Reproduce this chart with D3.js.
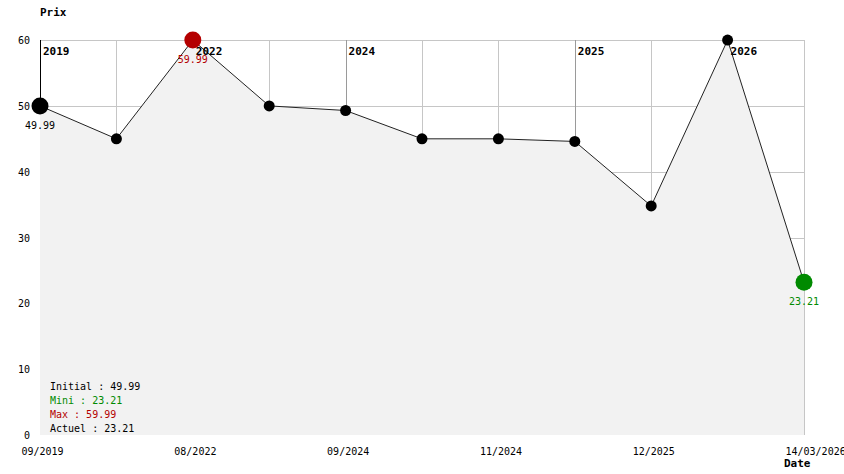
<!DOCTYPE html>
<html>
<head>
<meta charset="utf-8">
<script src="https://cdn.jsdelivr.net/npm/d3@7"></script>
<style>
  html, body { margin: 0; padding: 0; background: #fff; }
  svg { display: block; }
  text { font-family: "DejaVu Sans Mono", "Liberation Mono", monospace; }
</style>
</head>
<body>
<svg id="chart" width="844" height="474"></svg>
<script>
// ---- data ----
const prices = [49.99, 44.99, 59.99, 49.99, 49.29, 44.99, 44.99, 44.59, 34.79, 59.99, 23.21];
const xTickIndex = [0, 2, 4, 6, 8, 10];
const xTickLabels = ["09/2019", "08/2022", "09/2024", "11/2024", "12/2025", "14/03/2026"];
const yearIndex = [0, 2, 4, 7, 9];
const yearLabels = ["2019", "2022", "2024", "2025", "2026"];
const yTicks = [0, 10, 20, 30, 40, 50, 60];
const legendLabels = ["Initial : 49.99", "Mini : 23.21", "Max : 59.99", "Actuel : 23.21"];
const legendColors = ["#000000", "#008a00", "#b40000", "#000000"];

// ---- layout ----
const pL = 40, pR_ = 804, pT = 40, pB = 435;
const RED = "#b40000", GREEN = "#008a00";

const svg = d3.select("#chart");
const idx = d3.range(prices.length);
const x = d3.scalePoint().domain(idx).range([pL, pR_]);
const y = d3.scaleLinear().domain([0, 60]).range([pB, pT]);

// gridlines
const g = svg.append("g");
g.selectAll("line.h").data(yTicks.filter(d => d > 0)).join("line")
  .attr("x1", pL).attr("x2", pR_)
  .attr("y1", d => Math.round(y(d)) + 0.5).attr("y2", d => Math.round(y(d)) + 0.5)
  .attr("stroke", "#c6c6c6").attr("stroke-width", 1);
g.selectAll("line.v").data(idx.slice(1)).join("line")
  .attr("x1", d => Math.round(x(d)) + 0.5).attr("x2", d => Math.round(x(d)) + 0.5)
  .attr("y1", pT).attr("y2", pB)
  .attr("stroke", d => yearIndex.includes(d) ? "#9a9a9a" : "#c6c6c6").attr("stroke-width", 1);
// y axis line
g.append("line").attr("x1", pL + 0.5).attr("x2", pL + 0.5).attr("y1", pT).attr("y2", pB)
  .attr("stroke", "#000").attr("stroke-width", 1);

// area
const area = d3.area().x(i => x(i)).y0(y(0)).y1(i => y(prices[i]));
svg.append("path").datum(idx).attr("d", area).attr("fill", "#f2f2f2");

// line
const line = d3.line().x(i => x(i)).y(i => y(prices[i]));
svg.append("path").datum(idx).attr("d", line).attr("fill", "none")
  .attr("stroke", "#222").attr("stroke-width", 1);

// year labels
svg.selectAll("text.year").data(yearIndex).join("text")
  .attr("x", d => x(d) + 3).attr("y", 55)
  .attr("font-size", 11).attr("font-weight", "bold").attr("fill", "#000")
  .text((d, i) => yearLabels[i]);

// points
const maxIdx = prices.indexOf(d3.max(prices));
const lastIdx = prices.length - 1;
function pColor(i) {
  if (i === lastIdx) return GREEN;
  if (i === maxIdx) return RED;
  return "#000";
}
function pRad(i) {
  return (i === 0 || i === maxIdx || i === lastIdx) ? 8.5 : 5.5;
}
svg.selectAll("circle.pt").data(idx).join("circle")
  .attr("cx", i => x(i)).attr("cy", i => y(prices[i]))
  .attr("r", pRad).attr("fill", pColor);

// point value labels
const labelled = [0, maxIdx, lastIdx];
svg.selectAll("text.val").data(labelled).join("text")
  .attr("x", i => x(i)).attr("y", i => y(prices[i]) + 23)
  .attr("text-anchor", "middle").attr("font-size", 10)
  .attr("fill", i => i === lastIdx ? GREEN : (i === maxIdx ? RED : "#000"))
  .text(i => prices[i].toFixed(2));

// y axis ticks
const yAxis = d3.axisLeft(y).tickValues(yTicks).tickSize(0).tickPadding(0).tickFormat(d3.format("d"));
const ya = svg.append("g").attr("transform", `translate(${pL - 10},0)`).call(yAxis);
ya.select(".domain").remove();
ya.selectAll("text").attr("font-size", 10).attr("font-family", "DejaVu Sans Mono").attr("fill", "#000")
  .attr("dy", "0.35em");

// x axis labels
const xAxis = d3.axisBottom(x).tickValues(xTickIndex).tickSize(0).tickPadding(0)
  .tickFormat(d => xTickLabels[xTickIndex.indexOf(d)]);
const xa = svg.append("g").attr("transform", `translate(0,${pB})`).call(xAxis);
xa.select(".domain").remove();
xa.selectAll("text").attr("font-size", 10).attr("font-family", "DejaVu Sans Mono").attr("fill", "#000")
  .attr("text-anchor", "start").attr("dx", -19).attr("y", 20).attr("dy", 0);

// axis titles
svg.append("text").attr("x", 40).attr("y", 16).attr("font-size", 11).attr("font-weight", "bold").text("Prix");
svg.append("text").attr("x", 784).attr("y", 467).attr("font-size", 11).attr("font-weight", "bold").text("Date");

// legend
svg.selectAll("text.leg").data(legendLabels).join("text")
  .attr("x", 50).attr("y", (d, i) => 390 + i * 14)
  .attr("font-size", 10).attr("fill", (d, i) => legendColors[i])
  .text(d => d);
</script>
</body>
</html>
